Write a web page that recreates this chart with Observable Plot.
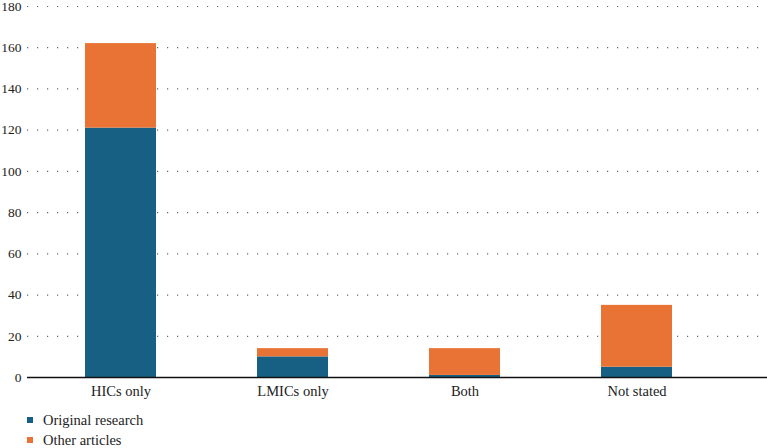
<!DOCTYPE html>
<html>
<head>
<meta charset="utf-8">
<script src="https://cdn.jsdelivr.net/npm/d3@7"></script>
<script src="https://cdn.jsdelivr.net/npm/@observablehq/plot@0.6"></script>
<style>
  html, body { margin: 0; padding: 0; background: #fff; }
  body { width: 767px; height: 448px; overflow: hidden; font-family: "Liberation Serif", "Times New Roman", serif; }
  #legend { padding-left: 27px; margin-top: 5px; font-size: 14.5px; color: #222; }
  .row { display: flex; align-items: center; height: 20px; }
  .sw { width: 6px; height: 6px; margin-right: 10px; }
</style>
</head>
<body>
<div id="chart"></div>
<div id="legend"></div>
<script>
const categories = ["HICs only", "LMICs only", "Both", "Not stated"];
const seriesNames = ["Original research", "Other articles"];
const originalResearch = [121, 10, 1, 5];
const otherArticles = [41, 4, 13, 30];
const yTicks = [0, 20, 40, 60, 80, 100, 120, 140, 160, 180];
const colors = ["#176083", "#e97334"];

const rows = [];
categories.forEach((c, i) => {
  rows.push({category: c, series: seriesNames[0], value: originalResearch[i]});
  rows.push({category: c, series: seriesNames[1], value: otherArticles[i]});
});

const chart = Plot.plot({
  width: 767,
  height: 405,
  marginTop: 6,
  marginBottom: 28,
  marginLeft: 27,
  marginRight: 0,
  style: {fontFamily: "'Liberation Serif', 'Times New Roman', serif", fontSize: "13px", color: "#222", background: "#fff"},
  x: {domain: categories, range: [33, 723], paddingInner: 0.59, paddingOuter: 0.295, label: null},
  y: {domain: [0, 180], label: null},
  color: {domain: seriesNames, range: colors},
  marks: [
    Plot.ruleY(yTicks.filter(d => d > 0), {stroke: "#666", strokeWidth: 1.2, strokeDasharray: "1.2,8.8"}),
    Plot.barY(rows, {x: "category", y: "value", fill: "series", order: seriesNames}),
    Plot.axisY({ticks: yTicks, tickSize: 0, tickPadding: 6, fontSize: 13.5, label: null}),
    Plot.axisX({tickSize: 0, tickPadding: 8, fontSize: 14.5, label: null}),
    Plot.ruleY([0], {stroke: "#111", strokeWidth: 1.5})
  ]
});
document.getElementById("chart").appendChild(chart);

const legend = document.getElementById("legend");
seriesNames.forEach((s, i) => {
  const row = document.createElement("div");
  row.className = "row";
  const sw = document.createElement("span");
  sw.className = "sw";
  sw.style.background = colors[i];
  const t = document.createElement("span");
  t.textContent = s;
  row.appendChild(sw);
  row.appendChild(t);
  legend.appendChild(row);
});
</script>
</body>
</html>
